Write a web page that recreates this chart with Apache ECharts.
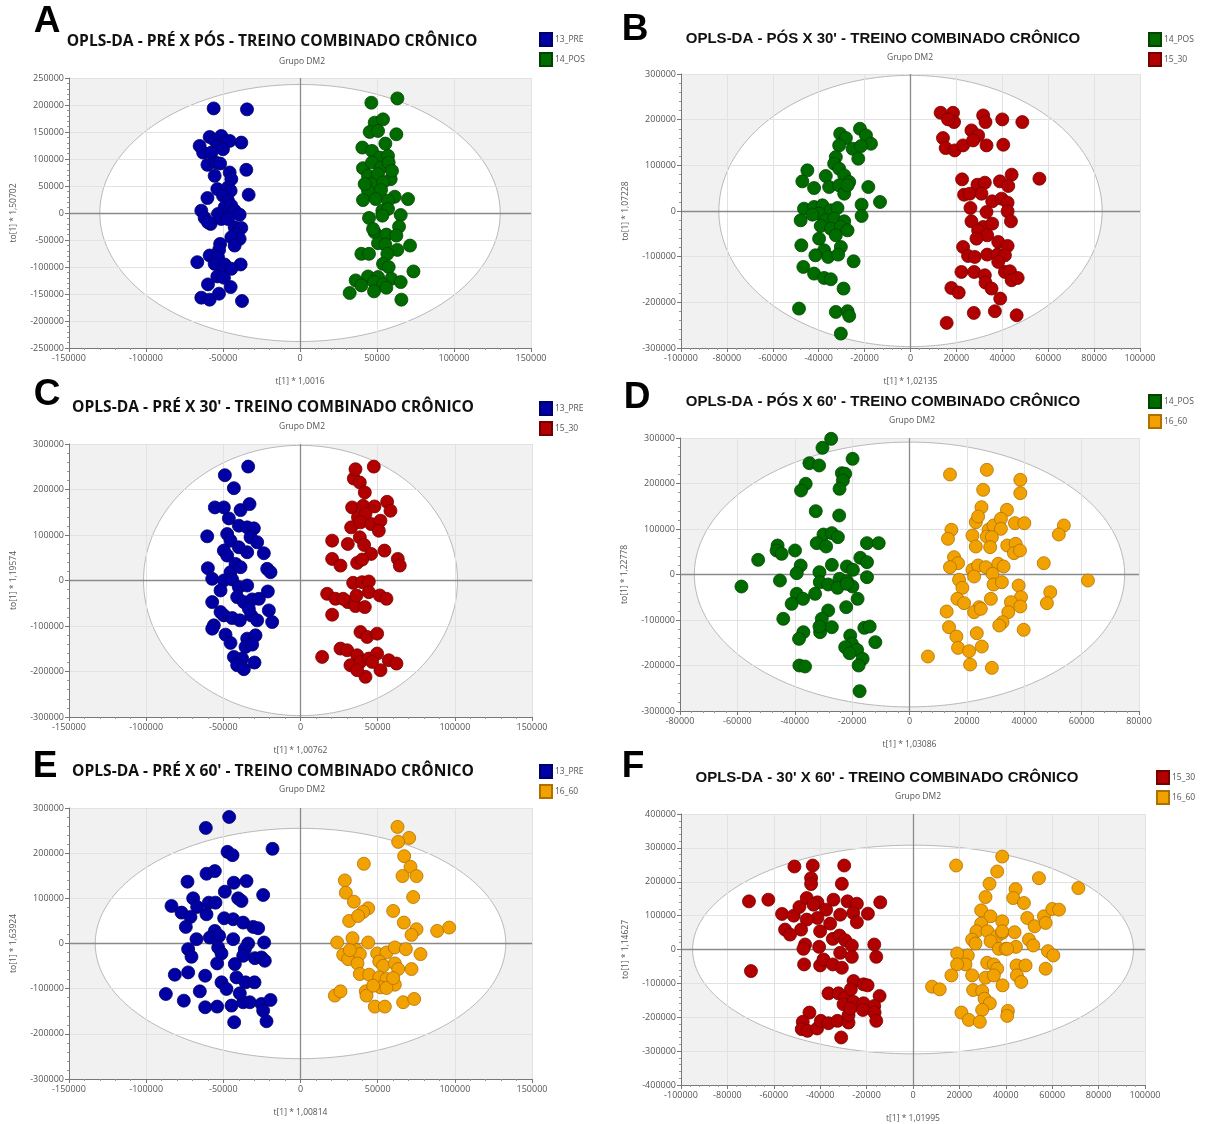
<!DOCTYPE html>
<html>
<head>
<meta charset="utf-8">
<script src="https://cdn.jsdelivr.net/npm/echarts@6/dist/echarts.min.js"></script>
<style>
  html, body { margin: 0; padding: 0; background: #ffffff; }
  #chart { width: 1214px; height: 1124px; }
</style>
</head>
<body>
<div id="chart"></div>
<script>
// OPLS-DA score plots, six group comparisons (t[1] vs to[1])

// ---- A: PRÉ x PÓS ----
const A_pre = [[-56070,193700],[-34420,191900],[-58670,140800],[-51090,142700],[-45680,133500],[-38100,130400],[-65170,124200],[-55420,134700],[-53260,124200],[-50010,118100],[-62920,111900],[-57510,111900],[-60110,89200],[-54700,93500],[-51880,91600],[-34860,80000],[-55420,68900],[-45680,75000],[-44600,62700],[-33340,33800],[-53690,44300],[-46760,47400],[-45030,41200],[-60110,27700],[-50010,32000],[-46760,22800],[-64090,4300],[-48930,10500],[-44600,13500],[-53260,-1800],[-42430,4300],[-39180,-3100],[-61920,-9200],[-58020,-20300],[-59750,-17200],[-51090,-11100],[-42430,-26400],[-38100,-27700],[-41350,-38700],[-39180,-48000],[-44600,-44900],[-51880,-57200],[-52530,-68300],[-42430,-60300],[-58670,-78700],[-53260,-81800],[-66680,-91000],[-55420,-94100],[-48930,-95300],[-38530,-95300],[-50010,-106400],[-44600,-103300],[-53690,-117500],[-49360,-119900],[-59750,-132200],[-45030,-137100],[-64090,-156800],[-58670,-160500],[-52610,-149400],[-37670,-163000],[-46760,-11100]];
const A_pos = [[46330,204200],[63220,212200],[48500,167300],[53910,173400],[45250,150100],[50660,151900],[62570,145800],[55420,128500],[40490,121200],[46760,115000],[51740,102700],[57150,105800],[40920,83000],[46760,93500],[52610,84300],[57580,93500],[44170,68900],[50660,72000],[58880,62700],[46330,53500],[53910,56600],[44170,41200],[52610,42400],[40920,24000],[49150,25800],[61490,30100],[70150,25800],[57150,22800],[53480,4300],[57150,7400],[44810,-9200],[53480,-4900],[65390,-3700],[64310,-25200],[48500,-35700],[56070,-40000],[62570,-41800],[50660,-56000],[55420,-58400],[71450,-60300],[63220,-68300],[39840,-75600],[44810,-75600],[56720,-75600],[53910,-94100],[57580,-100200],[73670,-108200],[44170,-117500],[50660,-118700],[36160,-124800],[48070,-127900],[59320,-121800],[39840,-134100],[53910,-132200],[65390,-127900],[32260,-148200],[48070,-145100],[56070,-138400],[65820,-160500],[42000,53500],[59750,78100],[47410,-29500]];

// ---- B: PÓS x 30' ----
const B_pos = [[-22030,180100],[-30640,169200],[-28160,159700],[-19400,165500],[-17220,147300],[-31080,143700],[-25240,136400],[-21590,142200],[-22760,114500],[-32540,118100],[-33270,103600],[-31080,92600],[-44940,89000],[-47130,64900],[-36910,76600],[-28890,78000],[-26700,63400],[-42020,50300],[-35450,52500],[-31080,56200],[-28890,37900],[-18380,52500],[-13280,19700],[-21300,13900],[-21300,-10900],[-46400,5100],[-42020,8800],[-38370,12400],[-34720,1500],[-31810,6600],[-47860,-20400],[-39830,-5800],[-36910,-20400],[-33270,-16800],[-28890,-22600],[-39100,-32800],[-34720,-38700],[-30350,-35000],[-32540,-53200],[-39830,-60500],[-47570,-75100],[-37640,-86100],[-30350,-78800],[-41440,-97000],[-35890,-100600],[-31520,-95500],[-24800,-110100],[-46690,-122500],[-42020,-137100],[-37640,-146600],[-34720,-149500],[-29180,-169900],[-48580,-213700],[-32540,-221000],[-27430,-219500],[-26700,-229700],[-30350,-268400],[-27430,-42300],[-42750,-8000],[-27430,56200]];
const B_m30 = [[13130,215100],[18530,215100],[18970,194700],[16340,200600],[31660,209300],[32680,194700],[39980,200600],[48730,194700],[26550,176500],[29470,165500],[14150,159700],[15320,137800],[19260,132700],[22910,143700],[27280,154600],[33120,143700],[40420,145100],[22470,69300],[29180,57600],[32390,62000],[38960,64900],[44070,79500],[56170,70700],[42600,54700],[23350,35700],[25820,37900],[30930,37900],[35600,21200],[39690,27000],[42310,18200],[26120,6600],[42310,-700],[43770,-22600],[26550,-22600],[31660,-35000],[35600,-27700],[29470,-42300],[33420,-53200],[38230,-67800],[28740,-60500],[22910,-78800],[42310,-76600],[25090,-98500],[28010,-100600],[33420,-95500],[37930,-95500],[41140,-97000],[22180,-133500],[27720,-133500],[32390,-140800],[32680,-156800],[35310,-169900],[41140,-133500],[43330,-132000],[44070,-151700],[46700,-146600],[17800,-168500],[21010,-178700],[39100,-191800],[27580,-223200],[36770,-219500],[46250,-228300],[15760,-245000],[38230,-111600],[33120,-2200]];

// ---- C: PRÉ x 30' ----
const C_pre = [[-33900,250400],[-49010,231400],[-43180,202900],[-55490,160600],[-49660,160600],[-38860,154800],[-33030,167900],[-46420,136500],[-60450,97100],[-47500,102200],[-39940,120500],[-34550,116800],[-30230,114600],[-45340,87600],[-32380,94900],[-28070,84000],[-49660,65700],[-39940,73000],[-34550,62100],[-23750,59900],[-47500,54800],[-42100,36500],[-60020,27000],[-21590,25600],[-19430,18300],[-45340,18300],[-38860,29200],[-57210,3700],[-49660,0],[-44260,2200],[-51820,-21900],[-39940,-14600],[-34550,-11000],[-21160,-24100],[-57210,-47500],[-41020,-36500],[-36710,-47500],[-31310,-41600],[-26990,-40200],[-49660,-76700],[-44260,-82500],[-39290,-87600],[-31960,-76700],[-28070,-87600],[-20510,-65700],[-18350,-91300],[-56140,-98600],[-57210,-105900],[-48580,-119000],[-45340,-137200],[-34550,-127800],[-29150,-120500],[-35630,-146000],[-31310,-140900],[-43180,-167900],[-37790,-171600],[-29800,-180300],[-41020,-186200],[-36710,-194900],[-33460,-62100],[-51820,-69400]];
const C_m30 = [[34540,224100],[47500,250400],[38430,215400],[35630,244600],[41670,193500],[56130,173000],[58290,153300],[33460,160600],[40590,164300],[47930,162800],[37250,138700],[42100,146000],[32820,116800],[38860,127800],[45770,124100],[51820,131400],[50740,109500],[20510,87600],[30660,80300],[38430,94900],[41240,78100],[45770,58400],[54400,65700],[20510,47500],[25910,32800],[36710,38700],[39940,46000],[63040,47500],[64330,32800],[34110,-5100],[39940,-3700],[44260,-2200],[17270,-29200],[22670,-40200],[30660,-47500],[35630,-56200],[41670,-58400],[44260,-25600],[51380,-32800],[55700,-40200],[20510,-75200],[38860,-113200],[43180,-124100],[49660,-116800],[14030,-167900],[25910,-149700],[30230,-153300],[36710,-164300],[32380,-186200],[38860,-178900],[44260,-171600],[49660,-160600],[51820,-197100],[57210,-175200],[62180,-182500],[42100,-211700],[36710,-197100],[46420,-178900],[27640,-40200],[36270,-32800]];

// ---- D: PÓS x 60' ----
const D_pos = [[-27310,298200],[-30340,278400],[-19840,254200],[-34890,244700],[-31510,239600],[-23570,222700],[-22410,221300],[-23220,206600],[-24390,188300],[-36180,199300],[-37810,184600],[-32680,139200],[-24510,129700],[-29990,87900],[-27070,90900],[-24970,82100],[-32330,68900],[-29060,61500],[-45980,63700],[-46330,52800],[-44580,45400],[-39910,52800],[-52750,32200],[-14820,68900],[-10740,68900],[-17150,36600],[-14820,27100],[-37930,19800],[-39330,2900],[-27070,21200],[-21820,17600],[-19720,10300],[-31390,5100],[-14820,-5900],[-45160,-13200],[-58580,-26400],[-31270,-16900],[-28350,-22000],[-24390,-9500],[-21820,-14700],[-19900,-26400],[-25090,-29300],[-39330,-42500],[-32910,-42500],[-37110,-53500],[-18090,-53500],[-41080,-64500],[-28350,-79100],[-22060,-71800],[-44000,-97400],[-30570,-97400],[-31160,-126800],[-27070,-115800],[-36990,-126800],[-38510,-141400],[-31390,-114300],[-15750,-117200],[-13880,-114300],[-11910,-148700],[-20660,-134100],[-20070,-152400],[-18260,-165600],[-22410,-159700],[-20890,-172900],[-16340,-185400],[-17740,-200000],[-38390,-200000],[-36410,-202200],[-17390,-256400],[-21820,-20500]];
const D_m60 = [[14120,219800],[26960,230100],[38630,208100],[38630,178800],[25670,186100],[25090,148000],[33960,142100],[14590,98200],[13420,78400],[23110,115000],[23920,127500],[27540,98200],[29290,107700],[31860,122400],[31860,100400],[36760,112800],[40030,112800],[21940,85700],[26960,83500],[28710,82100],[23110,61500],[28120,60100],[34080,63700],[37000,67400],[36410,46900],[38510,52800],[53800,107700],[52050,87900],[15520,38100],[16920,24900],[14120,16100],[21940,10300],[23920,19800],[26610,16100],[30930,23400],[32800,17600],[46800,24900],[22520,-4400],[28940,1500],[62200,-13200],[17270,-11700],[18440,-29300],[29290,-22000],[32210,-16900],[38050,-24200],[16690,-53500],[19020,-63000],[28360,-53500],[24270,-71800],[22520,-82800],[38860,-49800],[49070,-38800],[47900,-63000],[35360,-60800],[38630,-70300],[34430,-82800],[32440,-104800],[12950,-81300],[39800,-121600],[13770,-115800],[16340,-136300],[23460,-129000],[16920,-161200],[25210,-158300],[20770,-168500],[21120,-197800],[28710,-205200],[6420,-180200],[24860,-75500],[31280,-112100]];

// ---- E: PRÉ x 60' ----
const E_pre = [[-46220,280100],[-61340,255900],[-18140,209600],[-47300,202900],[-44060,195600],[-60910,154400],[-55510,160300],[-73220,136800],[-43200,134600],[-34990,138200],[-49030,114700],[-24190,107400],[-83590,83100],[-69550,100000],[-77110,68400],[-66960,80900],[-59400,90400],[-55080,90400],[-40390,100000],[-38230,94100],[-71280,58800],[-60910,64700],[-74300,36800],[-49460,55900],[-43630,53700],[-37150,46300],[-30670,36800],[-27430,33800],[-55510,27900],[-58750,13200],[-52700,16900],[-67390,9600],[-43630,9600],[-33910,0],[-23540,2200],[-72790,-12500],[-70630,-29400],[-53350,-8800],[-51190,-22100],[-36070,-12500],[-37150,-27200],[-29590,-32400],[-25270,-30900],[-23110,-38200],[-54000,-44100],[-42550,-45600],[-81430,-69100],[-72790,-64000],[-61770,-71300],[-41470,-75000],[-35630,-86000],[-29800,-86000],[-51190,-86000],[-47950,-100700],[-87260,-111800],[-75600,-126500],[-65230,-105900],[-61770,-141200],[-54000,-139700],[-44710,-137500],[-37150,-130100],[-32830,-130100],[-25270,-133800],[-19440,-125000],[-24190,-148500],[-22030,-172100],[-42980,-174300],[-39310,-110300]];
const E_m60 = [[62860,258100],[70420,233800],[63290,225000],[67180,193400],[71280,169900],[66100,149300],[75170,149300],[41040,176500],[28730,139700],[29380,112500],[34560,92600],[73010,102900],[43850,77900],[40610,69900],[60050,72100],[31540,50000],[37370,61000],[66960,46300],[75170,31600],[71930,19100],[88560,27900],[96340,35300],[23760,2200],[33700,11800],[43850,2200],[27650,-25000],[30890,-34600],[36290,-14700],[38450,-23500],[36940,-44100],[38450,-67600],[44500,-69100],[49680,-22100],[55730,-19900],[61130,-8800],[68260,-12500],[77760,-23500],[51020,-39700],[53620,-49300],[61130,-44100],[63290,-56600],[71930,-56600],[51020,-75000],[55730,-78700],[61130,-91200],[42340,-105900],[42770,-115400],[51840,-97100],[55730,-98500],[22250,-115400],[25920,-105900],[48170,-139700],[54650,-139700],[66530,-130100],[73660,-122800],[47090,-93400],[60050,-76500],[31970,-14700]];

// ---- F: 30' x 60' ----
const F_m30 = [[-51120,245000],[-43200,247900],[-29660,247900],[-43920,210700],[-43920,193100],[-30670,194000],[-70700,142100],[-62350,147000],[-56450,104900],[-51410,100000],[-48960,125400],[-45790,151900],[-41180,139200],[-42910,132300],[-34270,147000],[-28220,142100],[-24190,135200],[-14110,139200],[-19440,105800],[-25780,107800],[-31390,102900],[-37440,117600],[-41180,93100],[-45790,88200],[-48240,58800],[-55150,58800],[-52990,44100],[-40030,53900],[-35710,76400],[-24190,80400],[-34560,31400],[-31680,41200],[-29230,27400],[-26350,11800],[-46510,14700],[-40460,7800],[-47230,2000],[-16700,14700],[-31390,-9800],[-26350,-21600],[-15840,-21600],[-46940,-44100],[-40030,-47000],[-38590,-29400],[-34560,-44100],[-30670,-53900],[-69840,-63700],[-25630,-93100],[-21310,-102900],[-19580,-105800],[-36430,-129400],[-32110,-129400],[-29230,-142100],[-26780,-117600],[-14400,-137200],[-29950,-161700],[-25630,-154800],[-21310,-158800],[-16700,-166600],[-21600,-178400],[-16560,-186200],[-44640,-186200],[-47520,-213600],[-47950,-235200],[-45500,-240100],[-41330,-233200],[-39740,-210700],[-36430,-217600],[-32540,-210700],[-27790,-215600],[-27790,-194000],[-15840,-210700],[-30960,-259700],[-27070,-174400]];
const F_m60 = [[18580,247900],[38450,274400],[36290,230300],[32980,194000],[31250,154800],[54290,210700],[71280,181300],[44210,178400],[43200,151900],[47810,137200],[29380,115600],[33410,98000],[38450,83300],[49250,93100],[52420,68600],[56450,98000],[60050,119600],[62930,117600],[57170,78400],[29380,76400],[27360,53900],[32110,53900],[36290,39200],[38450,49000],[43780,51000],[25490,29400],[26930,17600],[33410,24500],[37010,2000],[39890,2000],[44350,7800],[49970,29400],[51840,11800],[23620,-17600],[19010,-11800],[22610,-44100],[19010,-44100],[16560,-76400],[31970,-39200],[34850,-44100],[36290,-56800],[44640,-47000],[48530,-47000],[57170,-56800],[58180,-4900],[60480,-17600],[25490,-76400],[31250,-83300],[34850,-76400],[38590,-105800],[44780,-76400],[46660,-96000],[8210,-109800],[11520,-117600],[25920,-119600],[29810,-122500],[30820,-145000],[33120,-158800],[29810,-178400],[20880,-186200],[24050,-207800],[28800,-213600],[40900,-181300],[40610,-196000],[40610,2000],[38450,53900]];

// Panel texts
const letters = ['A', 'B', 'C', 'D', 'E', 'F'];
const titles = [
  'OPLS-DA - PRÉ X PÓS - TREINO COMBINADO CRÔNICO',
  'OPLS-DA - PÓS X 30\' - TREINO COMBINADO CRÔNICO',
  'OPLS-DA - PRÉ X 30\' - TREINO COMBINADO CRÔNICO',
  'OPLS-DA - PÓS X 60\' - TREINO COMBINADO CRÔNICO',
  'OPLS-DA - PRÉ X 60\' - TREINO COMBINADO CRÔNICO',
  'OPLS-DA - 30\' X 60\' - TREINO COMBINADO CRÔNICO'
];
const subtitle = 'Grupo DM2';
const xNames = ['t[1] * 1,0016', 't[1] * 1,02135', 't[1] * 1,00762', 't[1] * 1,03086', 't[1] * 1,00814', 't[1] * 1,01995'];
const yNames = ['to[1] * 1,50702', 'to[1] * 1,07228', 'to[1] * 1,19574', 'to[1] * 1,22778', 'to[1] * 1,63924', 'to[1] * 1,14627'];

// Axis ranges and steps
const xMin = [-150000, -100000, -150000, -80000, -150000, -100000];
const xMax = [150000, 100000, 150000, 80000, 150000, 100000];
const xStep = [50000, 20000, 50000, 20000, 50000, 20000];
const yMin = [-250000, -300000, -300000, -300000, -300000, -400000];
const yMax = [250000, 300000, 300000, 300000, 300000, 400000];
const yStep = [50000, 100000, 100000, 100000, 100000, 100000];

// Hotelling T2 ellipse semi-axes (t[1], to[1])
const ellipseRx = [130000, 83500, 101700, 75000, 133000, 95000];
const ellipseRy = [238000, 297000, 297000, 291000, 255000, 308000];

// Groups in each panel
const groupNames = [
  ['13_PRE', '14_POS'], ['14_POS', '15_30'], ['13_PRE', '15_30'],
  ['14_POS', '16_60'], ['13_PRE', '16_60'], ['15_30', '16_60']
];
const groupData = [
  [A_pre, A_pos], [B_pos, B_m30], [C_pre, C_m30],
  [D_pos, D_m60], [E_pre, E_m60], [F_m30, F_m60]
];

const groupStyle = {
  '13_PRE': { color: '#0000a4', borderColor: '#00006a' },
  '14_POS': { color: '#006c00', borderColor: '#004400' },
  '15_30':  { color: '#b20000', borderColor: '#760000' },
  '16_60':  { color: '#f2a200', borderColor: '#b07000' }
};

// Layout of the six panels (pixels)
const grids = [
  { left: 69,  top: 78,  width: 462, height: 270 },
  { left: 681, top: 74,  width: 459, height: 274 },
  { left: 69,  top: 444, width: 463, height: 273 },
  { left: 680, top: 438, width: 459, height: 273 },
  { left: 69,  top: 808, width: 463, height: 271 },
  { left: 681, top: 814, width: 464, height: 273 }
];
const titlePos = [[272, 42], [883, 39], [273, 408], [883, 402], [273, 772], [887, 778]];
const subPos = [[302, 62], [910, 58], [302, 427], [912, 421], [302, 790], [918, 797]];
const letterPos = [[47, 22], [635, 30], [47, 395], [637, 398], [45, 767], [633, 767]];
const legendPos = [[539, 32], [1148, 32], [539, 401], [1148, 394], [539, 764], [1156, 770]];
const titleFonts = ['bold 15.6px "Open Sans"', 'bold 15px "Liberation Sans"', 'bold 15.6px "Open Sans"',
                    'bold 15px "Liberation Sans"', 'bold 15.6px "Open Sans"', 'bold 15px "Liberation Sans"'];

const fmt = v => String(v);

const option = {
  animation: false,
  backgroundColor: '#ffffff',
  textStyle: { fontFamily: 'Open Sans' },
  grid: grids.map(g => Object.assign({ show: true, backgroundColor: '#f1f1f1', borderWidth: 0, containLabel: false }, g)),
  xAxis: grids.map((g, i) => ({
    gridIndex: i, type: 'value', min: xMin[i], max: xMax[i], interval: xStep[i], z: 1,
    name: xNames[i], nameLocation: 'middle', nameGap: 29,
    nameTextStyle: { fontSize: 8.5, color: '#555', fontFamily: 'Open Sans' },
    axisLine: { onZero: false, lineStyle: { color: '#777', width: 1 } },
    axisTick: { show: true, length: 4, lineStyle: { color: '#777' } },
    minorTick: { show: true, splitNumber: 5, length: 2, lineStyle: { color: '#999' } },
    axisLabel: { formatter: fmt, fontSize: 9, color: '#555', margin: 6 },
    splitLine: { show: true, lineStyle: { color: '#e2e2e2', width: 1 } }
  })),
  yAxis: grids.map((g, i) => ({
    gridIndex: i, type: 'value', min: yMin[i], max: yMax[i], interval: yStep[i], z: 1,
    name: yNames[i], nameLocation: 'middle', nameGap: 51, nameRotate: 90,
    nameTextStyle: { fontSize: 8.5, color: '#555', fontFamily: 'Open Sans' },
    axisLine: { show: true, onZero: false, lineStyle: { color: '#777', width: 1 } },
    axisTick: { show: true, length: 4, lineStyle: { color: '#777' } },
    minorTick: { show: true, splitNumber: 5, length: 2, lineStyle: { color: '#999' } },
    axisLabel: { formatter: fmt, fontSize: 9, color: '#555', margin: 5 },
    splitLine: { show: true, lineStyle: { color: '#e2e2e2', width: 1 } }
  })),
  legend: grids.map((g, i) => ({
    data: groupNames[i], orient: 'vertical', left: legendPos[i][0], top: legendPos[i][1],
    icon: 'rect', itemWidth: 12, itemHeight: 13, itemGap: 5, padding: 0,
    selectedMode: false,
    textStyle: { fontSize: 8.5, color: '#555', fontFamily: 'Open Sans', padding: [0, 0, 0, -2] }
  })),
  series: [],
  graphic: []
};

grids.forEach((g, i) => {
  // confidence ellipse (white interior, thin gray outline)
  const rx = ellipseRx[i], ry = ellipseRy[i];
  option.series.push({
    type: 'custom', xAxisIndex: i, yAxisIndex: i, z: 0, silent: true, clip: false,
    data: [[0, 0]],
    renderItem: (params, api) => {
      const c = api.coord([0, 0]);
      const sx = api.size([rx, 0])[0];
      const sy = api.size([0, ry])[1];
      const pts = [];
      for (let k = 0; k < 240; k++) {
        const a = (k / 240) * Math.PI * 2;
        pts.push([c[0] + sx * Math.cos(a), c[1] + sy * Math.sin(a)]);
      }
      return { type: 'polygon', shape: { points: pts }, style: { fill: '#ffffff', stroke: '#b8b8b8', lineWidth: 1 } };
    },
    markLine: {
      silent: true, symbol: 'none', label: { show: false }, z: 1,
      lineStyle: { color: '#8a8a8a', width: 1.3, type: 'solid' },
      data: [{ xAxis: 0 }, { yAxis: 0 }]
    }
  });
  groupNames[i].forEach((name, j) => {
    const st = groupStyle[name];
    option.series.push({
      type: 'scatter', name: name, xAxisIndex: i, yAxisIndex: i, z: 3,
      data: groupData[i][j], symbolSize: 13,
      itemStyle: { color: st.color, borderColor: st.borderColor, borderWidth: 0.8, opacity: 1 }
    });
  });
  option.graphic.push(
    { type: 'text', x: letterPos[i][0], y: letterPos[i][1],
      style: { text: letters[i], font: 'bold 37px "Liberation Sans"', fill: '#000', align: 'center', verticalAlign: 'middle', textAlign: 'center', textVerticalAlign: 'middle' } },
    { type: 'text', x: titlePos[i][0], y: titlePos[i][1],
      style: { text: titles[i], font: titleFonts[i], fill: '#111', align: 'center', verticalAlign: 'middle', textAlign: 'center', textVerticalAlign: 'middle' } },
    { type: 'text', x: subPos[i][0], y: subPos[i][1],
      style: { text: subtitle, font: '8.5px "Open Sans"', fill: '#555', align: 'center', verticalAlign: 'middle', textAlign: 'center', textVerticalAlign: 'middle' } }
  );
});

const chart = echarts.init(document.getElementById('chart'), null, { renderer: 'canvas' });
chart.setOption(option);
</script>
</body>
</html>
